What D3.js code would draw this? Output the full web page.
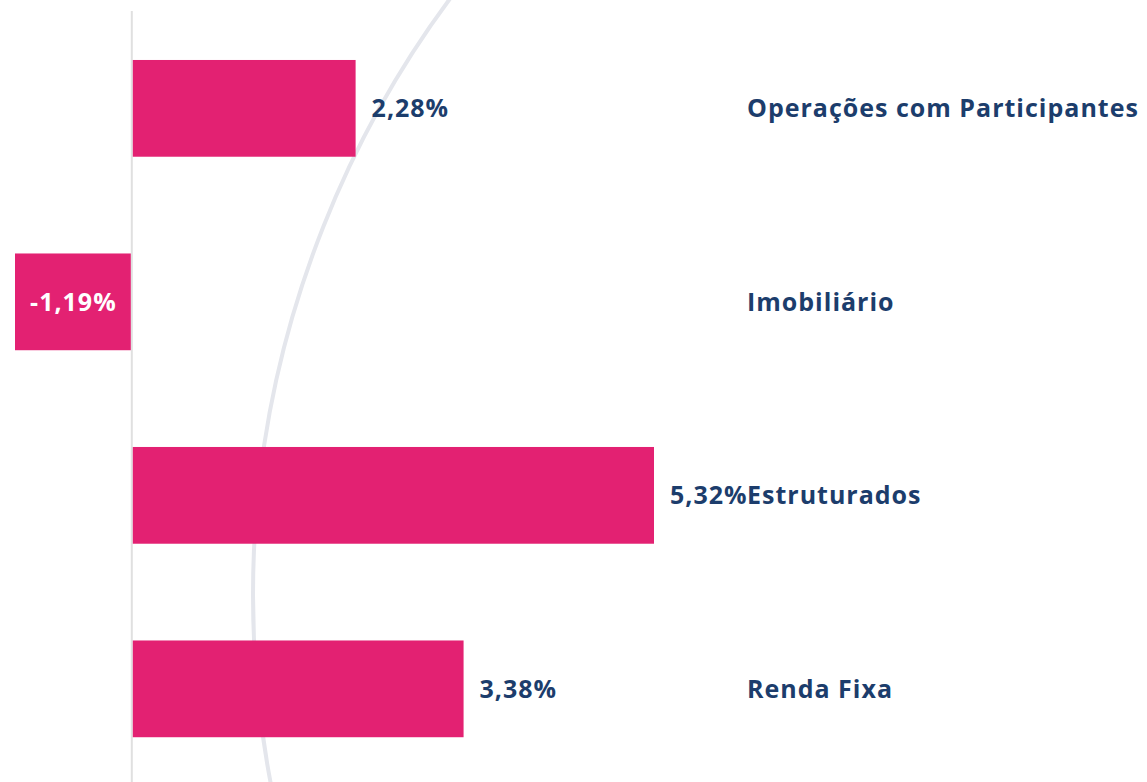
<!DOCTYPE html>
<html>
<head>
<meta charset="utf-8">
<script src="https://cdn.jsdelivr.net/npm/d3@7"></script>
<style>
  body { margin: 0; background: #fff; }
  svg { display: block; }
  text { font-family: "Open Sans", Lato, sans-serif; font-weight: 700; }
</style>
</head>
<body>
<div id="chart"></div>
<script>
var categories = ["Operações com Participantes", "Imobiliário", "Estruturados", "Renda Fixa"];
var values = [2.28, -1.19, 5.32, 3.38];
var valueLabels = ["2,28%", "-1,19%", "5,32%", "3,38%"];

var chart = {
  width: 1147,
  height: 782,
  barLeft: 15,
  barRight: 654,
  top: 11.6,
  bottom: 785.6,
  labelX: 747,
}

function initChart() {
  var svg = d3.select("#chart")
    .append("svg")
    .attr("width", chart.width)
    .attr("height", chart.height);

  /* background arc */
  svg.append("circle")
    .attr("cx", 1253)
    .attr("cy", 595)
    .attr("r", 1000)
    .style("fill", "none")
    .style("stroke", "#e4e6ec")
    .style("stroke-width", 4);

  /* x */
  var x = d3.scaleLinear()
    .domain([d3.min(values), d3.max(values)])
    .range([chart.barLeft, chart.barRight]);

  /* y */
  var y = d3.scaleBand()
    .domain(categories)
    .range([chart.top, chart.bottom])
    .paddingInner(0.5)
    .paddingOuter(0.25);

  /* zero line */
  svg.append("line")
    .attr("x1", x(0))
    .attr("x2", x(0))
    .attr("y1", 11)
    .attr("y2", chart.height)
    .style("stroke", "#e0e0e0")
    .style("stroke-width", 2);

  var rows = svg.selectAll("g.row")
    .data(categories)
    .enter()
    .append("g")
    .attr("class", "row");

  rows.append("rect")
    .attr("x", (d, i) => x(Math.min(0, values[i])) + (values[i] >= 0 ? 1 : 0))
    .attr("y", (d) => y(d))
    .attr("width", (d, i) => Math.abs(x(values[i]) - x(0)) - 1)
    .attr("height", y.bandwidth())
    .style("fill", "#e32172");

  rows.append("text")
    .attr("x", (d, i) => values[i] >= 0 ? x(values[i]) + 16 : (x(values[i]) + x(0)) / 2)
    .attr("y", (d) => y(d) + y.bandwidth() / 2 + 9)
    .style("text-anchor", (d, i) => values[i] >= 0 ? "start" : "middle")
    .style("font-size", "25px")
    .style("letter-spacing", "1px")
    .style("fill", (d, i) => values[i] >= 0 ? "#1c3d6c" : "#ffffff")
    .text((d, i) => valueLabels[i]);

  rows.append("text")
    .attr("x", chart.labelX)
    .attr("y", (d) => y(d) + y.bandwidth() / 2 + 9)
    .style("font-size", "25px")
    .style("letter-spacing", "1px")
    .style("fill", "#1c3d6c")
    .text((d) => d);
}

initChart();
</script>
</body>
</html>
